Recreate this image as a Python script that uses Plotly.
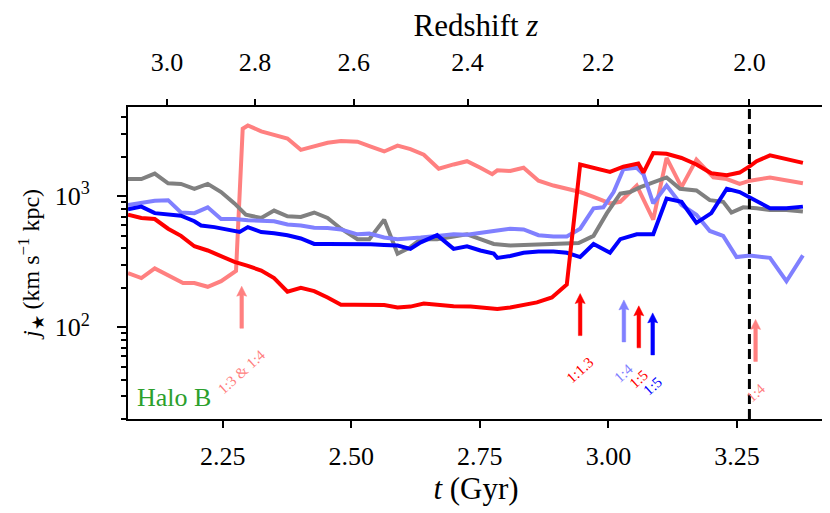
import math
import plotly.graph_objects as go

# cosmic time (Gyr) and specific angular momentum j_star (km/s kpc)
t_pink = [2.066, 2.092, 2.118, 2.144, 2.173, 2.195, 2.221, 2.247, 2.276, 2.289, 2.299, 2.325, 2.350,
          2.376, 2.402, 2.428, 2.454, 2.480, 2.512, 2.538, 2.564, 2.590, 2.615, 2.641, 2.670, 2.699,
          2.725, 2.751, 2.774, 2.784, 2.809, 2.835, 2.864, 2.893, 2.919, 2.945, 2.971, 3.003, 3.023,
          3.055, 3.087, 3.113, 3.142, 3.171, 3.204, 3.230, 3.255, 3.275, 3.314, 3.346, 3.378]
j_pink = [259, 238, 282, 252, 218, 218, 204, 225, 270, 3276, 3469, 3130, 2923,
          2761, 2262, 2394, 2564, 2638, 2608, 2394, 2198, 2436, 2288, 2076, 1624, 1750,
          1852, 1652, 1474, 1579, 1561, 1652, 1315, 1208, 1141, 1078, 989, 883, 908,
          1208, 664, 1961, 1174, 1906, 1393, 1354, 1243, 1315, 1393, 1315, 1257]

t_gray = [2.066, 2.092, 2.118, 2.144, 2.169, 2.195, 2.221, 2.247, 2.273, 2.295, 2.325, 2.350, 2.376,
          2.402, 2.428, 2.454, 2.480, 2.512, 2.535, 2.564, 2.590, 2.615, 2.635, 2.667, 2.699,
          2.725, 2.751, 2.777, 2.809, 2.842, 2.874, 2.906, 2.942, 2.971, 2.997, 3.023, 3.042,
          3.062, 3.087, 3.113, 3.139, 3.171, 3.197, 3.223, 3.239, 3.262, 3.288, 3.314, 3.346, 3.378]
j_gray = [1354, 1354, 1491, 1257, 1243, 1141, 1243, 1078, 883, 723, 683, 778, 703,
          695, 752, 683, 566, 471, 471, 664, 365, 409, 471, 471, 493,
          513, 471, 433, 421, 425, 433, 440, 440, 499, 744, 1047, 1078,
          1174, 1279, 1393, 1141, 1108, 934, 908, 752, 824, 810, 787, 787, 765]

t_lblue = [2.066, 2.092, 2.118, 2.144, 2.169, 2.195, 2.221, 2.247, 2.273, 2.299, 2.325, 2.350, 2.376,
           2.402, 2.428, 2.454, 2.480, 2.512, 2.535, 2.564, 2.590, 2.615, 2.635, 2.667, 2.699,
           2.725, 2.751, 2.777, 2.809, 2.835, 2.864, 2.893, 2.919, 2.945, 2.971, 2.990, 3.010,
           3.029, 3.055, 3.068, 3.087, 3.113, 3.142, 3.171, 3.197, 3.223, 3.249, 3.275, 3.314,
           3.346, 3.378]
j_lblue = [858, 883, 924, 934, 752, 744, 824, 671, 671, 656, 656, 645, 609,
           599, 575, 572, 559, 513, 519, 485, 471, 477, 485, 499, 513,
           508, 522, 544, 566, 559, 505, 493, 493, 566, 810, 824, 1078,
           1606, 1652, 1474, 883, 1208, 858, 723, 544, 499, 344, 354, 339,
           225, 354]

t_blue = [2.066, 2.092, 2.118, 2.144, 2.169, 2.195, 2.208, 2.234, 2.260, 2.283, 2.299, 2.325, 2.350,
          2.376, 2.402, 2.415, 2.428, 2.454, 2.480, 2.512, 2.538, 2.564, 2.590, 2.615, 2.635,
          2.667, 2.699, 2.725, 2.751, 2.777, 2.784, 2.809, 2.835, 2.864, 2.893, 2.919, 2.945,
          2.971, 3.003, 3.023, 3.055, 3.087, 3.113, 3.142, 3.171, 3.200, 3.230, 3.255, 3.275,
          3.314, 3.346, 3.378]
j_blue = [796, 834, 744, 723, 711, 645, 599, 582, 553, 534, 582, 534, 522,
          505, 477, 450, 433, 433, 433, 433, 430, 425, 421, 397, 445,
          505, 397, 416, 386, 365, 339, 350, 371, 379, 379, 371, 344,
          433, 371, 471, 513, 513, 961, 908, 627, 744, 1141, 1078, 978,
          810, 810, 834]

t_red = [2.066, 2.092, 2.118, 2.144, 2.169, 2.195, 2.221, 2.247, 2.273, 2.299, 2.325, 2.350, 2.376,
         2.402, 2.428, 2.454, 2.480, 2.506, 2.531, 2.564, 2.590, 2.615, 2.641, 2.667, 2.699,
         2.732, 2.758, 2.784, 2.809, 2.835, 2.861, 2.890, 2.919, 2.945, 2.971, 3.003, 3.029,
         3.058, 3.068, 3.087, 3.113, 3.142, 3.171, 3.200, 3.230, 3.255, 3.275, 3.288, 3.314,
         3.346, 3.378]
j_red = [723, 683, 671, 566, 499, 416, 386, 347, 316, 295, 271, 238, 187,
         200, 189, 169, 149, 149, 149, 148, 142, 144, 152, 149, 145,
         144, 141, 138, 142, 149, 155, 169, 212, 1750, 1652, 1535, 1681,
         1780, 1517, 2136, 2112, 1961, 1750, 1500, 1450, 1517, 1700, 1852, 2053,
         1928, 1800]

# mergers: time, j at arrow tip, label, colour
merger_t = [2.287, 2.945, 3.030, 3.059, 3.086, 3.286]
merger_j = [206, 181, 162, 146, 129, 115]
merger_label = ["1:3 & 1:4", "1:1.3", "1:4", "1:5", "1:5", "1:4"]
merger_color = ["#ff8080", "#ff0000", "#8080ff", "#ff0000", "#0000ff", "#ff8080"]

# redshift axis on top
z_ticks = ["3.0", "2.8", "2.6", "2.4", "2.2", "2.0"]
z_tick_t = [2.142, 2.313, 2.505, 2.726, 2.980, 3.274]
t_z2 = 3.274

t_ticks = [2.25, 2.50, 2.75, 3.00, 3.25]
t_range = [2.066, 3.419]
j_range = [20, 4800]

FONT = "Liberation Serif"

fig = go.Figure()
series = [
    (t_pink, j_pink, "#ff8080"),
    (t_gray, j_gray, "#808080"),
    (t_lblue, j_lblue, "#8080ff"),
    (t_blue, j_blue, "#0000ff"),
    (t_red, j_red, "#ff0000"),
]
for tt, jj, col in series:
    fig.add_trace(go.Scatter(x=tt, y=jj, mode="lines", line=dict(color=col, width=4),
                             showlegend=False, hoverinfo="skip"))

# invisible trace so the top axis gets drawn
fig.add_trace(go.Scatter(x=t_range, y=[100, 100], xaxis="x2", mode="lines",
                         line=dict(width=0), opacity=0, showlegend=False, hoverinfo="skip"))

# z = 2 marker
fig.add_shape(type="line", x0=t_z2, x1=t_z2, y0=0, y1=1, xref="x", yref="paper",
              line=dict(color="black", width=3, dash="10px,5px"))

# merger arrows: shaft + head drawn in pixel units anchored at the tip
for tm, jm, lab, col in zip(merger_t, merger_j, merger_label, merger_color):
    fig.add_shape(type="path", xref="x", yref="y", xsizemode="pixel", ysizemode="pixel",
                  xanchor=tm, yanchor=jm,
                  path="M -1.8 -42 L 1.8 -42 L 1.8 -9 L 5 -10 L 0 0 L -5 -10 L -1.8 -9 Z",
                  fillcolor=col, line=dict(color=col, width=0.5))
    fig.add_annotation(x=tm, y=math.log10(jm), text=lab, showarrow=False, textangle=-42,
                       yanchor="top", xanchor="center", yshift=-58,
                       font=dict(family=FONT, size=15, color=col))

fig.add_annotation(x=0.01, y=0.015, xref="paper", yref="paper", text="Halo B", showarrow=False,
                   xanchor="left", yanchor="bottom", font=dict(family=FONT, size=26, color="#2ca02c"))

fig.update_layout(
    width=830, height=513,
    margin=dict(l=120, r=12, t=91, b=102),
    paper_bgcolor="white", plot_bgcolor="white",
    font=dict(family=FONT, size=26, color="black"),
    xaxis=dict(range=t_range, tickvals=t_ticks, ticktext=["2.25", "2.50", "2.75", "3.00", "3.25"],
               ticks="outside", ticklen=7, tickwidth=2, tickcolor="black",
               showline=True, linecolor="black", linewidth=2, mirror=True,
               showgrid=False, zeroline=False, ticklabelstandoff=6,
               title=dict(text="<i>t</i> (Gyr)", standoff=2)),
    xaxis2=dict(range=t_range, overlaying="x", side="top", tickvals=z_tick_t, ticktext=z_ticks,
                ticks="outside", ticklen=7, tickwidth=2, tickcolor="black",
                showline=False, showgrid=False, zeroline=False, ticklabelstandoff=18,
                title=dict(text="Redshift <i>z</i>", standoff=6)),
    yaxis=dict(type="log", range=[math.log10(j_range[0]), math.log10(j_range[1])],
               tickvals=[100, 1000], ticktext=["10<sup>2</sup>", "10<sup>3</sup>"],
               ticks="outside", ticklen=9, tickwidth=2, tickcolor="black",
               minor=dict(tickmode="array",
                          tickvals=[20, 30, 40, 50, 60, 70, 80, 90, 200, 300, 400, 500, 600, 700,
                                    800, 900, 2000, 3000, 4000],
                          ticks="outside", ticklen=5, tickwidth=1.5, tickcolor="black", showgrid=False),
               showline=True, linecolor="black", linewidth=2, mirror=True,
               showgrid=False, zeroline=False, ticklabelstandoff=22,
               title=dict(text="<i>j</i><sub>★</sub> (km s<sup>−1</sup> kpc)", standoff=8,
                          font=dict(size=24))),
)

fig.write_html("out.html")
